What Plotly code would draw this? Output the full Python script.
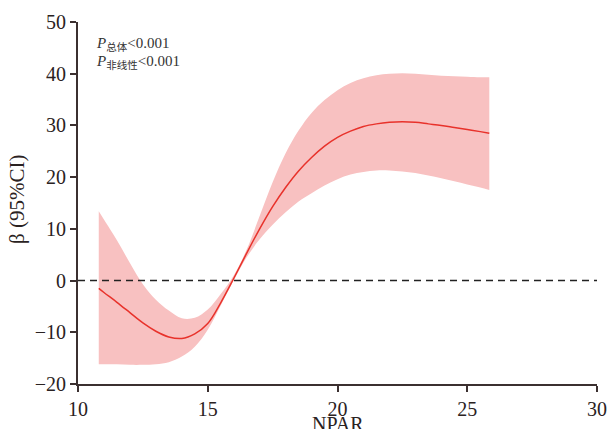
import plotly.graph_objects as go

npar = [10.8, 11.0, 11.5, 12.0, 12.5, 13.0, 13.5, 14.0, 14.5, 15.0, 15.5, 16.0,
        16.5, 17.0, 17.5, 18.0, 18.5, 19.0, 19.5, 20.0, 20.5, 21.0, 21.5, 22.0,
        22.5, 23.0, 23.5, 24.0, 24.5, 25.0, 25.5, 25.85]
beta = [-1.5, -2.3, -4.2, -6.2, -8.2, -9.8, -10.9, -11.2, -10.3, -8.3, -4.3, 0.4,
        5.3, 10.0, 14.3, 18.0, 21.2, 23.8, 26.0, 27.7, 28.9, 29.8, 30.3, 30.6,
        30.7, 30.6, 30.3, 30.0, 29.6, 29.2, 28.8, 28.5]
upper = [13.4, 11.8, 7.8, 3.4, -0.7, -3.7, -5.8, -7.3, -7.2, -5.6, -2.6, 1.0,
         6.0, 12.5, 19.0, 24.6, 29.0, 32.4, 34.9, 36.8, 38.2, 39.1, 39.7, 40.0,
         40.1, 40.0, 39.8, 39.6, 39.5, 39.4, 39.3, 39.3]
lower = [-16.2, -16.2, -16.2, -16.3, -16.3, -16.2, -15.8, -14.7, -12.8, -9.5, -4.8, 0.0,
         4.5, 8.0, 10.8, 13.2, 15.3, 16.9, 18.4, 19.6, 20.5, 21.0, 21.3, 21.3,
         21.1, 20.8, 20.3, 19.8, 19.2, 18.6, 18.0, 17.5]

x_ticks = [10, 15, 20, 25, 30]
y_ticks = [-20, -10, 0, 10, 20, 30, 40, 50]

axis_col = "#3b3030"
font_fam = "Liberation Serif, Noto Sans CJK SC, serif"

fig = go.Figure()
fig.add_trace(go.Scatter(x=npar, y=upper, mode="lines", line=dict(width=0, shape="spline"),
                         showlegend=False, hoverinfo="skip"))
fig.add_trace(go.Scatter(x=npar, y=lower, mode="lines", line=dict(width=0, shape="spline"),
                         fill="tonexty", fillcolor="#f8c1c1", showlegend=False, hoverinfo="skip"))
fig.add_trace(go.Scatter(x=[10, 30], y=[0, 0], mode="lines",
                         line=dict(color="#222222", width=1.6, dash="7px,5px"),
                         showlegend=False, hoverinfo="skip"))
fig.add_trace(go.Scatter(x=npar, y=beta, mode="lines",
                         line=dict(color="#e8322b", width=1.5, shape="spline"),
                         showlegend=False))

# plot area spans x 78-597, y 22-384 on the page
fig.update_layout(
    width=609, height=429,
    margin=dict(l=78, r=12, t=22, b=45),
    paper_bgcolor="white", plot_bgcolor="white",
    font=dict(family=font_fam, color="#2a2222", size=20),
    xaxis=dict(range=[10, 30], tickvals=x_ticks, showline=True, linecolor=axis_col,
               linewidth=2, ticks="outside", ticklen=6, tickwidth=1.5, tickcolor=axis_col,
               showgrid=False, zeroline=False, tickfont=dict(size=20), automargin=False),
    yaxis=dict(range=[-20, 50], tickvals=y_ticks, showline=True, linecolor=axis_col,
               linewidth=2, ticks="outside", ticklen=6, tickwidth=1.5, tickcolor=axis_col,
               showgrid=False, zeroline=False, tickfont=dict(size=20), automargin=False),
    annotations=[
        dict(text="NPAR", xref="paper", yref="paper", x=0.5, y=-(424 - 384) / 362,
             xanchor="center", yanchor="middle", showarrow=False, font=dict(size=20)),
        dict(text="β (95%CI)", xref="paper", yref="paper", x=(17 - 78) / 519,
             y=(384 - 200) / 362, textangle=-90, xanchor="center", yanchor="middle",
             showarrow=False, font=dict(size=21)),
        dict(text="<i>P</i><sub>总体</sub>&lt;0.001", xref="paper", yref="paper",
             x=(94 - 78) / 519, y=(384 - 44) / 362, xanchor="left", yanchor="middle",
             showarrow=False, font=dict(size=15, color="#333333")),
        dict(text="<i>P</i><sub>非线性</sub>&lt;0.001", xref="paper", yref="paper",
             x=(94 - 78) / 519, y=(384 - 62) / 362, xanchor="left", yanchor="middle",
             showarrow=False, font=dict(size=15, color="#333333")),
    ],
)

fig.write_html(
    "out.html",
    config={"displayModeBar": False},
    post_script="document.body.style.margin='0';document.body.style.overflow='hidden';",
)
